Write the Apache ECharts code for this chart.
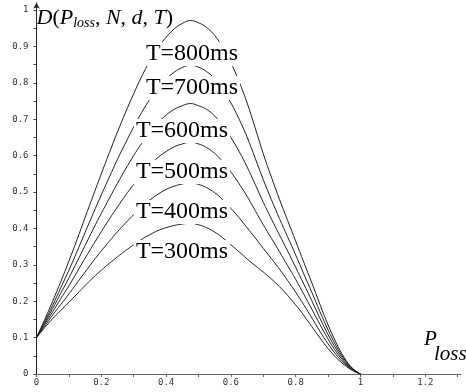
<!DOCTYPE html>
<html>
<head>
<meta charset="utf-8">
<script src="https://cdn.jsdelivr.net/npm/echarts@6/dist/echarts.min.js"></script>
<style>
html,body{margin:0;padding:0;background:#fff;}
#chart{width:466px;height:392px;}
</style>
</head>
<body>
<div id="chart"></div>
<script>
// ---- data ----
const pLoss = [0, 0.025, 0.05, 0.075, 0.1, 0.125, 0.15, 0.175, 0.2, 0.225, 0.25, 0.275, 0.3, 0.325, 0.35, 0.375, 0.4, 0.425, 0.45, 0.475,
  0.5, 0.525, 0.55, 0.575, 0.6, 0.625, 0.65, 0.675, 0.7, 0.725, 0.75, 0.775, 0.8, 0.825, 0.85, 0.875, 0.9, 0.925, 0.95, 0.975, 1];
const d800 = [0.100, 0.149, 0.200, 0.254, 0.310, 0.369, 0.430, 0.490, 0.550, 0.608, 0.665, 0.719, 0.770, 0.818, 0.860, 0.896, 0.925, 0.948, 0.963, 0.971,
  0.965, 0.952, 0.930, 0.897, 0.855, 0.804, 0.745, 0.676, 0.605, 0.541, 0.480, 0.422, 0.365, 0.307, 0.250, 0.191, 0.135, 0.086, 0.045, 0.016, 0];
const d700 = [0.100, 0.144, 0.189, 0.237, 0.285, 0.336, 0.389, 0.441, 0.492, 0.541, 0.590, 0.635, 0.679, 0.719, 0.755, 0.786, 0.810, 0.829, 0.842, 0.848,
  0.843, 0.831, 0.811, 0.782, 0.745, 0.701, 0.651, 0.593, 0.534, 0.479, 0.427, 0.377, 0.327, 0.275, 0.224, 0.171, 0.121, 0.077, 0.041, 0.015, 0];
const d600 = [0.100, 0.140, 0.180, 0.222, 0.264, 0.308, 0.353, 0.398, 0.441, 0.483, 0.524, 0.563, 0.600, 0.634, 0.664, 0.690, 0.711, 0.727, 0.737, 0.743,
  0.737, 0.727, 0.709, 0.683, 0.650, 0.612, 0.569, 0.521, 0.472, 0.426, 0.382, 0.338, 0.293, 0.247, 0.201, 0.153, 0.108, 0.069, 0.037, 0.014, 0];
const d500 = [0.100, 0.136, 0.171, 0.207, 0.242, 0.280, 0.318, 0.355, 0.391, 0.426, 0.459, 0.491, 0.521, 0.549, 0.574, 0.595, 0.611, 0.624, 0.632, 0.637,
  0.632, 0.622, 0.606, 0.583, 0.555, 0.523, 0.488, 0.449, 0.410, 0.373, 0.336, 0.298, 0.260, 0.219, 0.178, 0.136, 0.096, 0.061, 0.033, 0.012, 0];
const d400 = [0.100, 0.131, 0.162, 0.191, 0.220, 0.250, 0.280, 0.310, 0.338, 0.365, 0.391, 0.415, 0.438, 0.460, 0.478, 0.494, 0.507, 0.516, 0.522, 0.525,
  0.521, 0.512, 0.498, 0.479, 0.455, 0.430, 0.402, 0.374, 0.345, 0.317, 0.288, 0.257, 0.225, 0.190, 0.154, 0.117, 0.083, 0.053, 0.029, 0.011, 0];
const d300 = [0.100, 0.127, 0.152, 0.175, 0.197, 0.220, 0.243, 0.265, 0.285, 0.304, 0.322, 0.339, 0.355, 0.370, 0.383, 0.394, 0.402, 0.408, 0.412, 0.414,
  0.410, 0.402, 0.390, 0.374, 0.355, 0.336, 0.316, 0.298, 0.280, 0.261, 0.240, 0.216, 0.190, 0.161, 0.130, 0.099, 0.070, 0.045, 0.025, 0.010, 0];
const seriesNames = ['T=800ms', 'T=700ms', 'T=600ms', 'T=500ms', 'T=400ms', 'T=300ms'];
const xTickLabels = [0, 0.2, 0.4, 0.6, 0.8, 1, 1.2];
const xTicks = [0, 0.1, 0.2, 0.3, 0.4, 0.5, 0.6, 0.7, 0.8, 0.9, 1, 1.1, 1.2, 1.3];
const yTickLabels = [0, 0.1, 0.2, 0.3, 0.4, 0.5, 0.6, 0.7, 0.8, 0.9, 1];
const yTicks = [0, 0.05, 0.1, 0.15, 0.2, 0.25, 0.3, 0.35, 0.4, 0.45, 0.5, 0.55, 0.6, 0.65, 0.7, 0.75, 0.8, 0.85, 0.9, 0.95, 1];

const allSeries = [d800, d700, d600, d500, d400, d300];

// ---- layout / styles ----
const labelX = [192, 192, 182, 182, 182, 182];
const labelY = [54, 88, 131, 172, 212, 252];
const serif = '"Liberation Serif", "Times New Roman", serif';
const tickFont = { fontFamily: '"DejaVu Sans Mono", monospace', fontSize: 9, color: '#333' };

const chart = echarts.init(document.getElementById('chart'), null, { renderer: 'canvas' });

const option = {
  animation: false,
  backgroundColor: '#fff',
  grid: { left: 36.5, top: 2.7, width: 424.4, height: 371.3, outerBoundsMode: 'none', containLabel: false },
  xAxis: {
    type: 'value', min: 0, max: 1.31,
    splitLine: { show: false },
    axisLine: { lineStyle: { color: '#666', width: 1 } },
    axisTick: { show: true, length: 3, customValues: xTicks, lineStyle: { color: '#666' } },
    axisLabel: Object.assign({ customValues: xTickLabels, margin: 4, formatter: v => String(v) }, tickFont),
    name: '{p|P}\n{l|loss}',
    nameLocation: 'end',
    nameGap: -37,
    nameMoveOverlap: false,
    nameTextStyle: {
      align: 'left', verticalAlign: 'bottom', padding: [0, 0, 12, 0],
      rich: {
        p: { fontFamily: serif, fontStyle: 'italic', fontSize: 21, lineHeight: 15, color: '#000' },
        l: { fontFamily: serif, fontStyle: 'italic', fontSize: 21, lineHeight: 15, color: '#000', padding: [0, 0, 0, 10] }
      }
    }
  },
  yAxis: {
    type: 'value', min: 0, max: 1.02,
    splitLine: { show: false },
    axisLine: { symbol: ['none', 'arrow'], symbolSize: [5, 6], symbolOffset: [0, 0], lineStyle: { color: '#222', width: 1 } },
    axisTick: { show: true, length: 3, customValues: yTicks, lineStyle: { color: '#444' } },
    axisLabel: Object.assign({ customValues: yTickLabels, margin: 8, formatter: v => String(v) }, tickFont),
    name: '{i|D}{r|(}{i|P}{s|loss}{r|, }{i|N}{r|, }{i|d}{r|, }{i|T}{r|)}',
    nameLocation: 'end',
    nameGap: -15.6,
    nameMoveOverlap: false,
    nameTextStyle: {
      align: 'left', verticalAlign: 'middle',
      rich: {
        i: { fontFamily: serif, fontStyle: 'italic', fontSize: 22, lineHeight: 24, color: '#000' },
        r: { fontFamily: serif, fontSize: 22, lineHeight: 24, color: '#000' },
        s: { fontFamily: serif, fontStyle: 'italic', fontSize: 14, lineHeight: 14, verticalAlign: 'bottom', color: '#000' }
      }
    }
  },
  series: allSeries.map((vals, i) => ({
    name: seriesNames[i],
    type: 'line',
    smooth: 0.4,
    symbol: 'none',
    z: 2,
    lineStyle: { color: '#222', width: 1 },
    data: pLoss.map((p, j) => [p, vals[j]])
  })),
  graphic: seriesNames.map((t, i) => ({
    type: 'text',
    z: 100,
    x: labelX[i],
    y: labelY[i],
    style: {
      text: t,
      font: '24px ' + serif,
      fill: '#000',
      align: 'center', verticalAlign: 'middle',
      textAlign: 'center', textVerticalAlign: 'middle',
      backgroundColor: '#fff',
      padding: [0, 2]
    }
  }))
};
chart.setOption(option);
</script>
</body>
</html>
